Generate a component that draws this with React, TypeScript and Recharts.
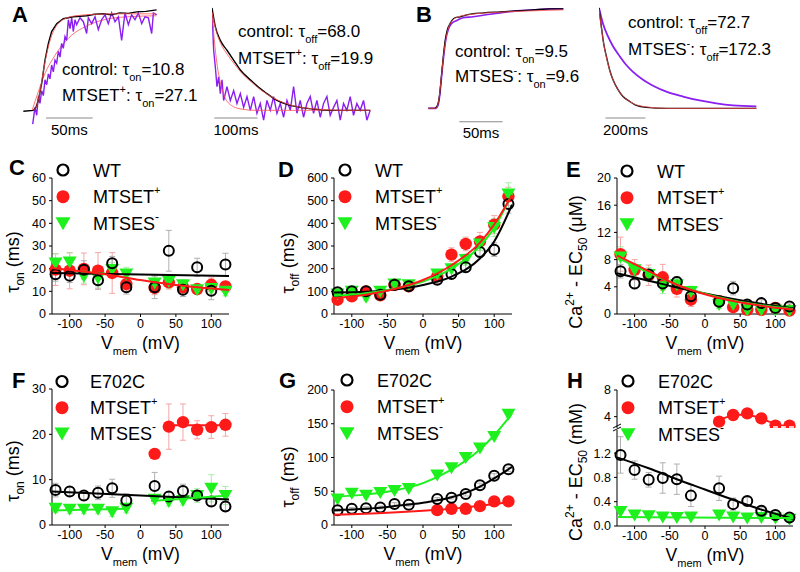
import React from 'react';
import { ScatterChart, Scatter, XAxis, YAxis, ErrorBar, LineChart, Line, ReferenceLine } from 'recharts';

const FONT = "'Liberation Sans', Arial, Helvetica, sans-serif";
const RED = '#ff1a1a';
const GREEN = '#1ef01e';
const PURPLE = '#8b1ef0';
const FITRED = '#ff5050';

// ---------------- categories ----------------
const V_ALL = [-120, -100, -80, -60, -40, -20, 20, 40, 60, 80, 100, 120];
const V_POS = [20, 40, 60, 80, 100, 120];
const X_TICKS = [-100, -50, 0, 50, 100];

// ---------------- panel C: tau_on (ms) ----------------
const C_WT = [17.5, 16.9, 19.5, 14.9, 22.4, 11.8, 11.8, 27.9, 10.7, 20.6, 10.3, 21.8];
const C_WT_ERR = [3, 3, 4, 4, 3, 3, 5, 9, 3, 4, 4, 5];
const C_SET = [19.6, 19.1, 19.9, 19.1, 18.1, 13.2, 11.5, 14.0, 11.8, 11.0, 12.9, 12.2];
const C_SET_ERR = [7, 8, 7, 8, 9, 3, 3, 3, 2, 2, 3, 2];
const C_SES = [22.5, 22.9, 16.6, 15.9, 19.6, 17.6, 13.7, 14.4, 12.9, 10.7, 11.2, 10.0];
const C_SES_ERR = [4, 4, 3, 4, 3, 3, 3, 3, 2, 2, 2, 2];
const C_FIT_WT = [[-125, 18.1], [125, 16.8]];
const C_FIT_SET = [[-125, 20.3], [-50, 17.5], [0, 15.0], [50, 12.8], [125, 10.6]];

// ---------------- panel D: tau_off (ms) ----------------
const D_WT = [96, 100, 100, 85, 129, 122, 151, 176, 206, 274, 284, 485];
const D_WT_ERR = [10, 10, 10, 10, 15, 15, 15, 20, 20, 25, 30, 40];
const D_SET = [63, 78, 100, 82, 129, 122, 166, 262, 309, 320, 394, 519];
const D_SET_ERR = [15, 15, 15, 15, 20, 20, 20, 30, 30, 40, 40, 40];
const D_SES = [88, 100, 74, 100, 132, 129, 176, 200, 240, 309, 382, 529];
const D_SES_ERR = [15, 15, 15, 15, 15, 15, 20, 20, 25, 30, 40, 50];
const D_FIT_WT = [[-125, 95], [-80, 98], [-40, 108], [0, 128], [40, 165], [80, 245], [100, 320], [125, 482]];
const D_FIT_SET = [[-125, 70], [-80, 85], [-40, 110], [0, 150], [40, 215], [80, 315], [100, 395], [125, 525]];
const D_FIT_SES = [[-125, 80], [-80, 92], [-40, 112], [0, 143], [40, 200], [80, 300], [100, 380], [125, 530]];

// ---------------- panel E: Ca2+ EC50 (uM) ----------------
const E_WT = [6.3, 4.5, 5.8, 4.5, 4.7, 2.6, 1.8, 3.8, 1.4, 1.6, 0.9, 1.1];
const E_WT_ERR = [1, 0.8, 0.8, 0.8, 0.8, 0.7, 0.7, 1, 0.5, 0.5, 0.4, 0.4];
const E_SET = [8.8, 6.5, 5.7, 5.4, 3.7, 2.1, 1.9, 1.0, 0.6, 0.6, 0.9, 0.5];
const E_SET_ERR = [2.5, 1.5, 1.5, 1.9, 1.2, 1, 0.8, 0.6, 0.5, 0.5, 0.4, 0.3];
const E_SES = [8.4, 6.5, 5.8, 4.0, 4.3, 3.3, 1.4, 1.4, 0.6, 0.6, 0.6, 0.5];
const E_SES_ERR = [1.5, 1, 1, 1, 1, 0.8, 0.6, 0.5, 0.4, 0.4, 0.3, 0.3];
const E_FIT_WT = [[-125, 6.0], [-80, 4.9], [-40, 3.9], [0, 3.0], [40, 2.2], [80, 1.5], [125, 0.85]];
const E_FIT_SET = [[-125, 8.6], [-80, 6.3], [-40, 4.3], [0, 2.9], [40, 1.9], [80, 1.2], [125, 0.65]];
const E_FIT_SES = [[-125, 8.3], [-80, 6.1], [-40, 4.3], [0, 3.0], [40, 2.0], [80, 1.3], [125, 0.75]];

// ---------------- panel F: E702C tau_on (ms) ----------------
const F_E = [7.7, 7.4, 6.5, 7.1, 8.1, 5.4, 8.6, 6.3, 7.5, 6.5, 5.2, 4.1];
const F_E_ERR = [1.5, 1, 1, 1.5, 2, 1.5, 3, 1, 1.5, 1, 1, 1];
const F_SET = [15.7, 21.7, 22.7, 21.0, 21.6, 22.1];
const F_SET_ERR = [1, 5, 4, 2, 2.5, 2.5];
const F_SES = [3.7, 3.5, 3.5, 3.5, 2.9, 3.7, 5.7, 5.2, 5.4, 6.5, 8.1, 6.5];
const F_SES_ERR = [1, 1, 1, 1, 1, 1, 1, 1, 1, 1.5, 3, 2];
const F_FIT_E = [[-125, 7.4], [125, 5.6]];
const F_FIT_SET = [[35, 22.0], [125, 22.0]];
const F_FIT_SES_NEG = [[-125, 3.2], [-20, 3.6]];
const F_FIT_SES_POS = [[15, 5.3], [125, 6.5]];

// ---------------- panel G: E702C tau_off (ms) ----------------
const G_E = [22, 24, 25, 26, 31, 30, 38.5, 40.5, 46, 59, 73, 82.5];
const G_E_ERR = [2, 2, 2, 2, 2, 2, 2, 2, 3, 3, 3, 3];
const G_SET = [22, 24, 24, 28, 35, 35];
const G_SES = [38.5, 47, 44, 48, 51, 54, 74, 85, 100, 114, 131, 164];
const G_SES_ERR = [3, 3, 3, 3, 3, 3, 3, 3, 4, 4, 4, 5];
const G_FIT_E = [[-125, 22], [-80, 24], [-40, 28], [0, 33], [40, 41], [80, 57], [100, 69], [125, 86]];
const G_FIT_SET = [[-125, 15], [-50, 18], [0, 21], [50, 25], [100, 31], [125, 35]];
const G_FIT_SES = [[-125, 42], [-80, 45], [-40, 51], [0, 62], [40, 82], [80, 112], [100, 133], [125, 165]];

// ---------------- panel H: E702C Ca2+ EC50 (mM) ----------------
const H_E = [1.17, 0.92, 0.76, 0.79, 0.77, 0.50, 0.62, 0.36, 0.41, 0.25, 0.18, 0.14];
const H_E_ERR = [0.3, 0.15, 0.12, 0.25, 0.25, 0.18, 0.2, 0.1, 0.06, 0.05, 0.05, 0.03];
const H_SET = [3.25, 4.25, 4.5, 3.75, 2.65, 2.65];
const H_SES = [0.24, 0.18, 0.17, 0.15, 0.14, 0.15, 0.18, 0.15, 0.13, 0.14, 0.13, 0.11];
const H_FIT_E = [[-125, 1.13], [-80, 0.95], [-40, 0.77], [0, 0.6], [40, 0.43], [80, 0.27], [125, 0.12]];
const H_FIT_SES = [[-125, 0.15], [125, 0.13]];
const H_FIT_SET = [[15, 3.1], [30, 3.9], [50, 4.3], [70, 4.05], [90, 3.3], [105, 2.75], [125, 2.55]];

// ---------------- traces (time ms, normalized current) ----------------
const A_ON_CONTROL = [[3.6, -0.01], [14.3, 0.0], [17, 0.03], [19.6, 0.1], [23.2, 0.27], [26.8, 0.51], [30.4, 0.68], [33.9, 0.8], [39.3, 0.88], [46.4, 0.93], [57.1, 0.95], [71.4, 0.96], [80, 0.975], [89.3, 0.98], [98, 0.97], [107.1, 0.99], [116, 0.985], [125, 1.0], [135, 1.005], [146.4, 1.02]];
const A_ON_MTSET = [[13.6, -0.14], [16.1, 0.03], [17.9, -0.05], [19.6, 0.14], [21.4, 0.07], [23.2, 0.2], [25.0, 0.15], [26.8, 0.31], [28.6, 0.26], [30.4, 0.37], [32.1, 0.32], [33.9, 0.46], [35.7, 0.39], [37.5, 0.51], [39.3, 0.48], [41.1, 0.6], [42.9, 0.54], [44.6, 0.68], [46.4, 0.63], [48.2, 0.75], [50.0, 0.71], [51.8, 0.92], [53.6, 0.83], [55.4, 0.94], [57.1, 0.8], [58.9, 0.92], [60.7, 0.87], [64.3, 0.94], [67.9, 0.9], [71.4, 0.78], [73.2, 0.94], [76.8, 0.88], [80.4, 0.95], [83.9, 0.82], [87.5, 0.92], [91.1, 0.97], [94.6, 0.88], [98.2, 0.99], [101.8, 0.9], [105.4, 0.95], [108.9, 0.71], [112.5, 0.99], [116.1, 0.87], [119.6, 0.97], [123.2, 0.92], [126.8, 0.99], [130.4, 0.88], [133.9, 0.95], [137.5, 0.94], [141.1, 0.78], [142.9, 0.99], [146.4, 0.97]];
const A_ON_FIT_CONTROL = [[14, 0], [18, 0.05], [22, 0.22], [26, 0.45], [30, 0.63], [34, 0.76], [40, 0.87], [48, 0.93], [60, 0.96], [80, 0.975], [110, 0.98], [146, 0.98]];
const A_ON_FIT_MTSET = [[13, 0], [20, 0.2], [27, 0.38], [35, 0.52], [45, 0.66], [55, 0.76], [70, 0.85], [90, 0.92], [115, 0.95], [146, 0.96]];

const A_OFF_CONTROL = [[0, 1.04], [7.7, 0.85], [19.2, 0.71], [34.6, 0.61], [50, 0.51], [65.4, 0.41], [88.5, 0.31], [111.5, 0.22], [126.9, 0.17], [150, 0.1], [173, 0.06], [203.8, 0.03], [242.3, 0.01], [280.8, 0], [365.4, 0]];
const A_OFF_MTSET = [[0, 1.02], [3.8, 0.61], [7.7, 0.44], [11.5, 0.24], [15.4, 0.34], [19.2, 0.17], [23.1, 0.31], [26.9, 0.1], [34.6, 0.24], [42.3, 0.1], [50, 0.2], [57.7, 0.07], [65.4, 0.17], [73.1, 0.03], [80.8, 0.14], [88.5, 0], [96.2, 0.14], [103.8, -0.03], [111.5, 0.07], [119.2, -0.1], [126.9, 0.1], [134.6, 0], [142.3, 0.14], [150, -0.03], [157.7, 0.07], [165.4, -0.07], [173.1, 0.1], [180.8, 0], [188.5, 0.24], [196.2, -0.03], [203.8, 0.1], [211.5, -0.07], [219.2, 0.07], [226.9, 0.14], [234.6, -0.03], [242.3, 0.1], [250, -0.07], [257.7, 0.07], [265.4, 0.14], [273.1, -0.05], [280.8, 0.03], [288.5, 0.1], [296.2, -0.1], [303.8, 0.07], [311.5, 0], [319.2, 0.14], [326.9, -0.05], [334.6, 0.07], [342.3, 0], [350, 0.1], [357.7, -0.1], [365.4, 0]];
const A_OFF_FIT_CONTROL = [[0, 1.0], [10, 0.8], [20, 0.68], [35, 0.57], [50, 0.48], [70, 0.37], [90, 0.29], [115, 0.2], [140, 0.13], [170, 0.07], [200, 0.035], [250, 0.01], [300, 0], [366, 0]];
const A_OFF_FIT_MTSET = [[0, 1.0], [4, 0.78], [8, 0.6], [14, 0.4], [20, 0.27], [30, 0.13], [45, 0.05], [65, 0.015], [100, 0], [366, 0]];

const B_ON_CONTROL = [[0.4, 0.02], [7.7, 0.02], [10.3, 0.04], [13.1, 0.14], [15.4, 0.34], [17.7, 0.55], [20.0, 0.72], [22.3, 0.82], [25.4, 0.88], [31.1, 0.94], [36.9, 0.95], [44.6, 0.97], [63.8, 0.99], [83.0, 1.0], [102.3, 1.01], [121.5, 1.02], [140.7, 1.03], [156.1, 1.03]];
const B_ON_MTSES = [[0.4, 0.02], [8.9, 0.02], [11.5, 0.05], [13.8, 0.17], [16.1, 0.38], [18.5, 0.58], [20.8, 0.73], [23.5, 0.82], [27.0, 0.88], [32.8, 0.91], [40.4, 0.94], [52.0, 0.95], [67.3, 0.97], [83.0, 0.99], [102.3, 1.01], [121.5, 1.02], [140.7, 1.03], [156.1, 1.03]];
const B_ON_FIT = [[0.4, 0.02], [9, 0.02], [12, 0.08], [15, 0.3], [18, 0.56], [21, 0.74], [24, 0.85], [28, 0.91], [35, 0.95], [50, 0.975], [80, 0.995], [120, 1.01], [156, 1.02]];

const B_OFF_CONTROL = [[0, 1.04], [11.7, 0.85], [23.3, 0.68], [36.7, 0.55], [53.3, 0.41], [70, 0.31], [95, 0.21], [120, 0.14], [153.3, 0.09], [186.7, 0.05], [236.7, 0.03], [336.7, 0.02], [786.7, 0.02]];
const B_OFF_MTSES = [[0, 1.04], [20, 0.88], [45, 0.75], [70, 0.65], [103.3, 0.55], [136.7, 0.46], [170, 0.39], [220, 0.31], [270, 0.25], [336.7, 0.19], [420, 0.14], [503.3, 0.1], [586.7, 0.07], [670, 0.05], [786.7, 0.04]];
const B_OFF_FIT = [[0, 1.03], [12, 0.84], [24, 0.67], [37, 0.54], [53, 0.41], [70, 0.31], [95, 0.21], [120, 0.14], [153, 0.09], [187, 0.055], [237, 0.035], [337, 0.02], [787, 0.02]];

// ---------------- helpers ----------------
type Pt = { x: number; y: number; e?: number };
const mk = (xs: number[], ys: number[], es?: number[]): Pt[] =>
  xs.map((x, i) => ({ x, y: ys[i], e: es ? es[i] : 0 }));
const mkFit = (pairs: number[][]) => pairs.map(([x, y]) => ({ x, y }));
const mkTr = (pairs: number[][]) => pairs.map(([t, a]) => ({ t, a }));

const OpenCircle = (p: any) => <circle cx={p.cx} cy={p.cy} r={5} fill="none" stroke="#000" strokeWidth={2} />;
const RedDot = (p: any) => <circle cx={p.cx} cy={p.cy} r={6.2} fill={RED} />;
const GreenTri = (p: any) => (
  <path d={`M${p.cx - 7},${p.cy - 5.5} L${p.cx + 7},${p.cy - 5.5} L${p.cx},${p.cy + 6.5} Z`} fill={GREEN} />
);
const NoDot = () => <g />;

const SHAPES: Record<string, any> = { open: OpenCircle, red: RedDot, green: GreenTri };
const ERRCOL: Record<string, string> = { open: '#b0b0b0', red: '#f6a6a6', green: '#a6eea6' };
const LINECOL: Record<string, string> = { open: '#000', red: RED, green: GREEN };

const tickStyle = { fontSize: 12.5, fill: '#000', fontFamily: FONT };

interface SeriesDef { data: Pt[]; kind: string; err?: boolean }
interface FitDef { data: { x: number; y: number }[]; kind: string }

function Panel(props: {
  pl: number; pr: number; pt: number; pb: number;
  yDomain: number[]; yTicks: number[];
  series: SeriesDef[]; fits: FitDef[];
  fmt?: (v: number) => string; hideX?: boolean;
}) {
  const { pl, pr, pt, pb, yDomain, yTicks, series, fits, fmt, hideX } = props;
  const ML = 50, MT = 10, MR = 14;
  const XH = hideX ? 0 : 30;
  const W = pr - pl, H = pb - pt;
  return (
    <div style={{ position: 'absolute', left: pl - ML, top: pt - MT }}>
      <ScatterChart width={W + ML + MR} height={H + MT + XH} margin={{ top: MT, right: MR, bottom: 0, left: 0 }}>
        <XAxis
          type="number" dataKey="x" domain={[-125, 125]} ticks={X_TICKS} interval={0}
          hide={!!hideX} height={XH} tick={tickStyle} tickSize={3} tickMargin={2}
          axisLine={{ stroke: '#000' }} tickLine={{ stroke: '#000' }}
        />
        <YAxis
          type="number" dataKey="y" domain={yDomain} ticks={yTicks} interval={0}
          width={ML} tick={tickStyle} tickSize={3} tickMargin={3}
          tickFormatter={fmt} axisLine={{ stroke: '#000' }} tickLine={{ stroke: '#000' }}
        />
        {series.map((s, i) => (
          <Scatter key={'s' + i} data={s.data} shape={SHAPES[s.kind]} fill={LINECOL[s.kind]} isAnimationActive={false}>
            {s.err ? <ErrorBar dataKey="e" direction="y" width={3} stroke={ERRCOL[s.kind]} strokeWidth={1} /> : null}
          </Scatter>
        ))}
        {fits.map((f, i) => (
          <Scatter
            key={'f' + i} data={f.data} shape={NoDot} fill={LINECOL[f.kind]}
            line={{ stroke: LINECOL[f.kind], strokeWidth: 2 }} lineJointType="monotoneX"
            isAnimationActive={false}
          />
        ))}
      </ScatterChart>
    </div>
  );
}

function Trace(props: {
  left: number; width: number; xMax: number;
  lines: { data: number[][]; color: string; w: number; smooth?: boolean }[];
  bar: { x0: number; x1: number; y: number; label: string };
}) {
  const { left, width, xMax, lines, bar } = props;
  return (
    <div style={{ position: 'absolute', left, top: 2 }}>
      <LineChart width={width} height={143} margin={{ top: 0, right: 0, bottom: 0, left: 0 }}>
        <XAxis type="number" dataKey="t" domain={[0, xMax]} hide allowDataOverflow />
        <YAxis type="number" domain={[-0.352, 1.1]} hide allowDataOverflow />
        <ReferenceLine
          segment={[{ x: bar.x0, y: bar.y }, { x: bar.x1, y: bar.y }]}
          stroke="#8a8a8a" strokeWidth={1}
          label={{ value: bar.label, position: 'bottom', offset: 6, fill: '#000', fontSize: 15, fontFamily: FONT }}
        />
        {lines.map((l, i) => (
          <Line
            key={i} data={mkTr(l.data)} dataKey="a" type={l.smooth ? 'monotone' : 'linear'}
            stroke={l.color} strokeWidth={l.w} dot={false} isAnimationActive={false}
          />
        ))}
      </LineChart>
    </div>
  );
}

// ---------------- overlay text helpers ----------------
function Annot({ x, y, pre, sup, sub, val }: { x: number; y: number; pre: string; sup?: string; sub: string; val: string }) {
  return (
    <text x={x} y={y} fontSize={17} fill="#000">
      <tspan>{pre}</tspan>
      {sup ? <tspan fontSize={11} dy={-8}>{sup}</tspan> : null}
      <tspan dy={sup ? 8 : 0}>{': τ'}</tspan>
      <tspan fontSize={11} dy={6}>{sub}</tspan>
      <tspan dy={-6}>{'=' + val}</tspan>
    </text>
  );
}

function LegendBlock({ mx, tx, ys, first }: { mx: number; tx: number; ys: number[]; first: string }) {
  return (
    <g>
      <circle cx={mx} cy={ys[0]} r={5.5} fill="none" stroke="#000" strokeWidth={2.2} />
      <circle cx={mx} cy={ys[1]} r={6.5} fill={RED} />
      <path d={`M${mx - 7.5},${ys[2] - 6} L${mx + 7.5},${ys[2] - 6} L${mx},${ys[2] + 7} Z`} fill={GREEN} />
      <text x={tx} y={ys[0] + 6.5} fontSize={18}>{first}</text>
      <text x={tx} y={ys[1] + 6.5} fontSize={18}>MTSET<tspan fontSize={11} dy={-9}>+</tspan></text>
      <text x={tx} y={ys[2] + 6.5} fontSize={18}>MTSES<tspan fontSize={12} dy={-9}>-</tspan></text>
    </g>
  );
}

function XTitle({ cx, y }: { cx: number; y: number }) {
  return (
    <text x={cx} y={y} fontSize={17.5} textAnchor="middle">
      <tspan>V</tspan>
      <tspan fontSize={11} dy={6}>mem</tspan>
      <tspan dy={-6}>{' (mV)'}</tspan>
    </text>
  );
}

function YTitleTau({ x, cy, sub }: { x: number; cy: number; sub: string }) {
  return (
    <text transform={`translate(${x},${cy}) rotate(-90)`} fontSize={18} textAnchor="middle">
      <tspan>τ</tspan>
      <tspan fontSize={12} dy={5}>{sub}</tspan>
      <tspan dy={-5}>{' (ms)'}</tspan>
    </text>
  );
}

function YTitleCa({ x, cy, unit }: { x: number; cy: number; unit: string }) {
  return (
    <text transform={`translate(${x},${cy}) rotate(-90)`} fontSize={18} textAnchor="middle">
      <tspan>Ca</tspan>
      <tspan fontSize={12} dy={-8}>2+</tspan>
      <tspan dy={8}>{' - EC'}</tspan>
      <tspan fontSize={12} dy={5}>50</tspan>
      <tspan dy={-5}>{' (' + unit + ')'}</tspan>
    </text>
  );
}

function Overlay() {
  const letters: [string, number, number][] = [
    ['A', 12, 22], ['B', 416, 22], ['C', 9, 175], ['D', 278, 177],
    ['E', 566, 177], ['F', 12, 388], ['G', 279, 388], ['H', 567, 388],
  ];
  return (
    <svg width={800} height={572} style={{ position: 'absolute', left: 0, top: 0, pointerEvents: 'none' }} fontFamily={FONT} fill="#000">
      {letters.map(([l, x, y]) => (
        <text key={l} x={x} y={y} fontSize={22} fontWeight="bold">{l}</text>
      ))}
      <Annot x={62} y={75} pre="control" sub="on" val="10.8" />
      <Annot x={62} y={101} pre="MTSET" sup="+" sub="on" val="27.1" />
      <Annot x={238} y={37} pre="control" sub="off" val="68.0" />
      <Annot x={238} y={64} pre="MTSET" sup="+" sub="off" val="19.9" />
      <Annot x={455} y={57} pre="control" sub="on" val="9.5" />
      <Annot x={455} y={82} pre="MTSES" sup="-" sub="on" val="9.6" />
      <Annot x={628} y={28} pre="control" sub="off" val="72.7" />
      <Annot x={628} y={55} pre="MTSES" sup="-" sub="off" val="172.3" />

      <LegendBlock mx={63} tx={93} ys={[170, 196.7, 223.3]} first="WT" />
      <LegendBlock mx={345} tx={375} ys={[170, 196.7, 223.3]} first="WT" />
      <LegendBlock mx={627} tx={657} ys={[171, 197.7, 224.3]} first="WT" />
      <LegendBlock mx={62} tx={90} ys={[381.5, 407.7, 433.5]} first="E702C" />
      <LegendBlock mx={347} tx={377} ys={[380, 406.7, 433.3]} first="E702C" />
      <LegendBlock mx={628} tx={658} ys={[381, 407.7, 434.3]} first="E702C" />

      <XTitle cx={140.5} y={349} />
      <XTitle cx={423} y={349} />
      <XTitle cx={705} y={349} />
      <XTitle cx={140.5} y={560} />
      <XTitle cx={423} y={560} />
      <XTitle cx={705} y={561} />

      <YTitleTau x={19} cy={262} sub="on" />
      <YTitleTau x={294} cy={263} sub="off" />
      <YTitleCa x={582} cy={262} unit="μM" />
      <YTitleTau x={19} cy={471} sub="on" />
      <YTitleTau x={294} cy={477} sub="off" />
      <YTitleCa x={582} cy={472} unit="mM" />

      {/* axis break marks on H */}
      <line x1={613} y1={428} x2={621} y2={424} stroke="#000" strokeWidth={1} />
      <line x1={613} y1={431} x2={621} y2={427} stroke="#000" strokeWidth={1} />
      <line x1={765} y1={427} x2={800} y2={427} stroke="#fff" strokeWidth={1.5} strokeDasharray="5 3" />
    </svg>
  );
}

export default function App() {
  return (
    <div style={{ position: 'absolute', left: 0, top: 0, width: 800, height: 572, background: '#fff', overflow: 'hidden', fontFamily: FONT }}>
      {/* A: activation and deactivation traces */}
      <Trace
        left={20} width={140} xMax={150}
        lines={[
          { data: A_ON_FIT_MTSET, color: FITRED, w: 0.8, smooth: true },
          { data: A_ON_MTSET, color: PURPLE, w: 1.4 },
          { data: A_ON_CONTROL, color: '#000', w: 1.4 },
          { data: A_ON_FIT_CONTROL, color: FITRED, w: 0.8, smooth: true },
        ]}
        bar={{ x0: 27.9, x1: 77.9, y: -0.078, label: '50ms' }}
      />
      <Trace
        left={211.7} width={160.2} xMax={370}
        lines={[
          { data: A_OFF_MTSET, color: PURPLE, w: 1.4 },
          { data: A_OFF_FIT_MTSET, color: FITRED, w: 0.8, smooth: true },
          { data: A_OFF_CONTROL, color: '#000', w: 1.4, smooth: true },
          { data: A_OFF_FIT_CONTROL, color: FITRED, w: 0.8, smooth: true },
        ]}
        bar={{ x0: 5.3, x1: 105.3, y: -0.078, label: '100ms' }}
      />
      {/* B */}
      <Trace
        left={428} width={138.7} xMax={160}
        lines={[
          { data: B_ON_MTSES, color: PURPLE, w: 1.6, smooth: true },
          { data: B_ON_CONTROL, color: '#000', w: 1.3, smooth: true },
          { data: B_ON_FIT, color: FITRED, w: 0.8, smooth: true },
        ]}
        bar={{ x0: 36.1, x1: 86.1, y: -0.116, label: '50ms' }}
      />
      <Trace
        left={599.3} width={160} xMax={800}
        lines={[
          { data: B_OFF_MTSES, color: PURPLE, w: 1.8, smooth: true },
          { data: B_OFF_CONTROL, color: '#000', w: 1.4, smooth: true },
          { data: B_OFF_FIT, color: FITRED, w: 0.8, smooth: true },
        ]}
        bar={{ x0: 32, x1: 232, y: -0.078, label: '200ms' }}
      />

      {/* C */}
      <Panel
        pl={52} pr={229} pt={178} pb={314} yDomain={[0, 60]} yTicks={[0, 10, 20, 30, 40, 50, 60]}
        series={[
          { data: mk(V_ALL, C_SET, C_SET_ERR), kind: 'red', err: true },
          { data: mk(V_ALL, C_SES, C_SES_ERR), kind: 'green', err: true },
          { data: mk(V_ALL, C_WT, C_WT_ERR), kind: 'open', err: true },
        ]}
        fits={[
          { data: mkFit(C_FIT_WT), kind: 'open' },
          { data: mkFit(C_FIT_SET), kind: 'red' },
        ]}
      />
      {/* D */}
      <Panel
        pl={334} pr={512} pt={178} pb={314} yDomain={[0, 600]} yTicks={[0, 100, 200, 300, 400, 500, 600]}
        series={[
          { data: mk(V_ALL, D_SET, D_SET_ERR), kind: 'red', err: true },
          { data: mk(V_ALL, D_SES, D_SES_ERR), kind: 'green', err: true },
          { data: mk(V_ALL, D_WT, D_WT_ERR), kind: 'open', err: true },
        ]}
        fits={[
          { data: mkFit(D_FIT_WT), kind: 'open' },
          { data: mkFit(D_FIT_SES), kind: 'green' },
          { data: mkFit(D_FIT_SET), kind: 'red' },
        ]}
      />
      {/* E */}
      <Panel
        pl={617} pr={793} pt={178} pb={314} yDomain={[0, 20]} yTicks={[0, 4, 8, 12, 16, 20]}
        series={[
          { data: mk(V_ALL, E_SET, E_SET_ERR), kind: 'red', err: true },
          { data: mk(V_ALL, E_SES, E_SES_ERR), kind: 'green', err: true },
          { data: mk(V_ALL, E_WT, E_WT_ERR), kind: 'open', err: true },
        ]}
        fits={[
          { data: mkFit(E_FIT_WT), kind: 'open' },
          { data: mkFit(E_FIT_SES), kind: 'green' },
          { data: mkFit(E_FIT_SET), kind: 'red' },
        ]}
      />
      {/* F */}
      <Panel
        pl={52} pr={229} pt={389} pb={525} yDomain={[0, 30]} yTicks={[0, 10, 20, 30]}
        series={[
          { data: mk(V_POS, F_SET, F_SET_ERR), kind: 'red', err: true },
          { data: mk(V_ALL, F_SES, F_SES_ERR), kind: 'green', err: true },
          { data: mk(V_ALL, F_E, F_E_ERR), kind: 'open', err: true },
        ]}
        fits={[
          { data: mkFit(F_FIT_E), kind: 'open' },
          { data: mkFit(F_FIT_SES_NEG), kind: 'green' },
          { data: mkFit(F_FIT_SES_POS), kind: 'green' },
          { data: mkFit(F_FIT_SET), kind: 'red' },
        ]}
      />
      {/* G */}
      <Panel
        pl={334} pr={512} pt={390} pb={525} yDomain={[0, 200]} yTicks={[0, 50, 100, 150, 200]}
        series={[
          { data: mk(V_POS, G_SET), kind: 'red' },
          { data: mk(V_ALL, G_SES, G_SES_ERR), kind: 'green', err: true },
          { data: mk(V_ALL, G_E, G_E_ERR), kind: 'open', err: true },
        ]}
        fits={[
          { data: mkFit(G_FIT_E), kind: 'open' },
          { data: mkFit(G_FIT_SES), kind: 'green' },
          { data: mkFit(G_FIT_SET), kind: 'red' },
        ]}
      />
      {/* H upper segment */}
      <Panel
        pl={617} pr={793} pt={390} pb={428} yDomain={[2.3, 8]} yTicks={[4, 8]} hideX
        series={[{ data: mk(V_POS, H_SET), kind: 'red' }]}
        fits={[{ data: mkFit(H_FIT_SET), kind: 'red' }]}
      />
      {/* H lower segment */}
      <Panel
        pl={617} pr={793} pt={430} pb={526} yDomain={[0, 1.58]} yTicks={[0, 0.4, 0.8, 1.2]}
        fmt={(v: number) => v.toFixed(1)}
        series={[
          { data: mk(V_ALL, H_SES), kind: 'green' },
          { data: mk(V_ALL, H_E, H_E_ERR), kind: 'open', err: true },
        ]}
        fits={[
          { data: mkFit(H_FIT_E), kind: 'open' },
          { data: mkFit(H_FIT_SES), kind: 'green' },
        ]}
      />
      <Overlay />
    </div>
  );
}
